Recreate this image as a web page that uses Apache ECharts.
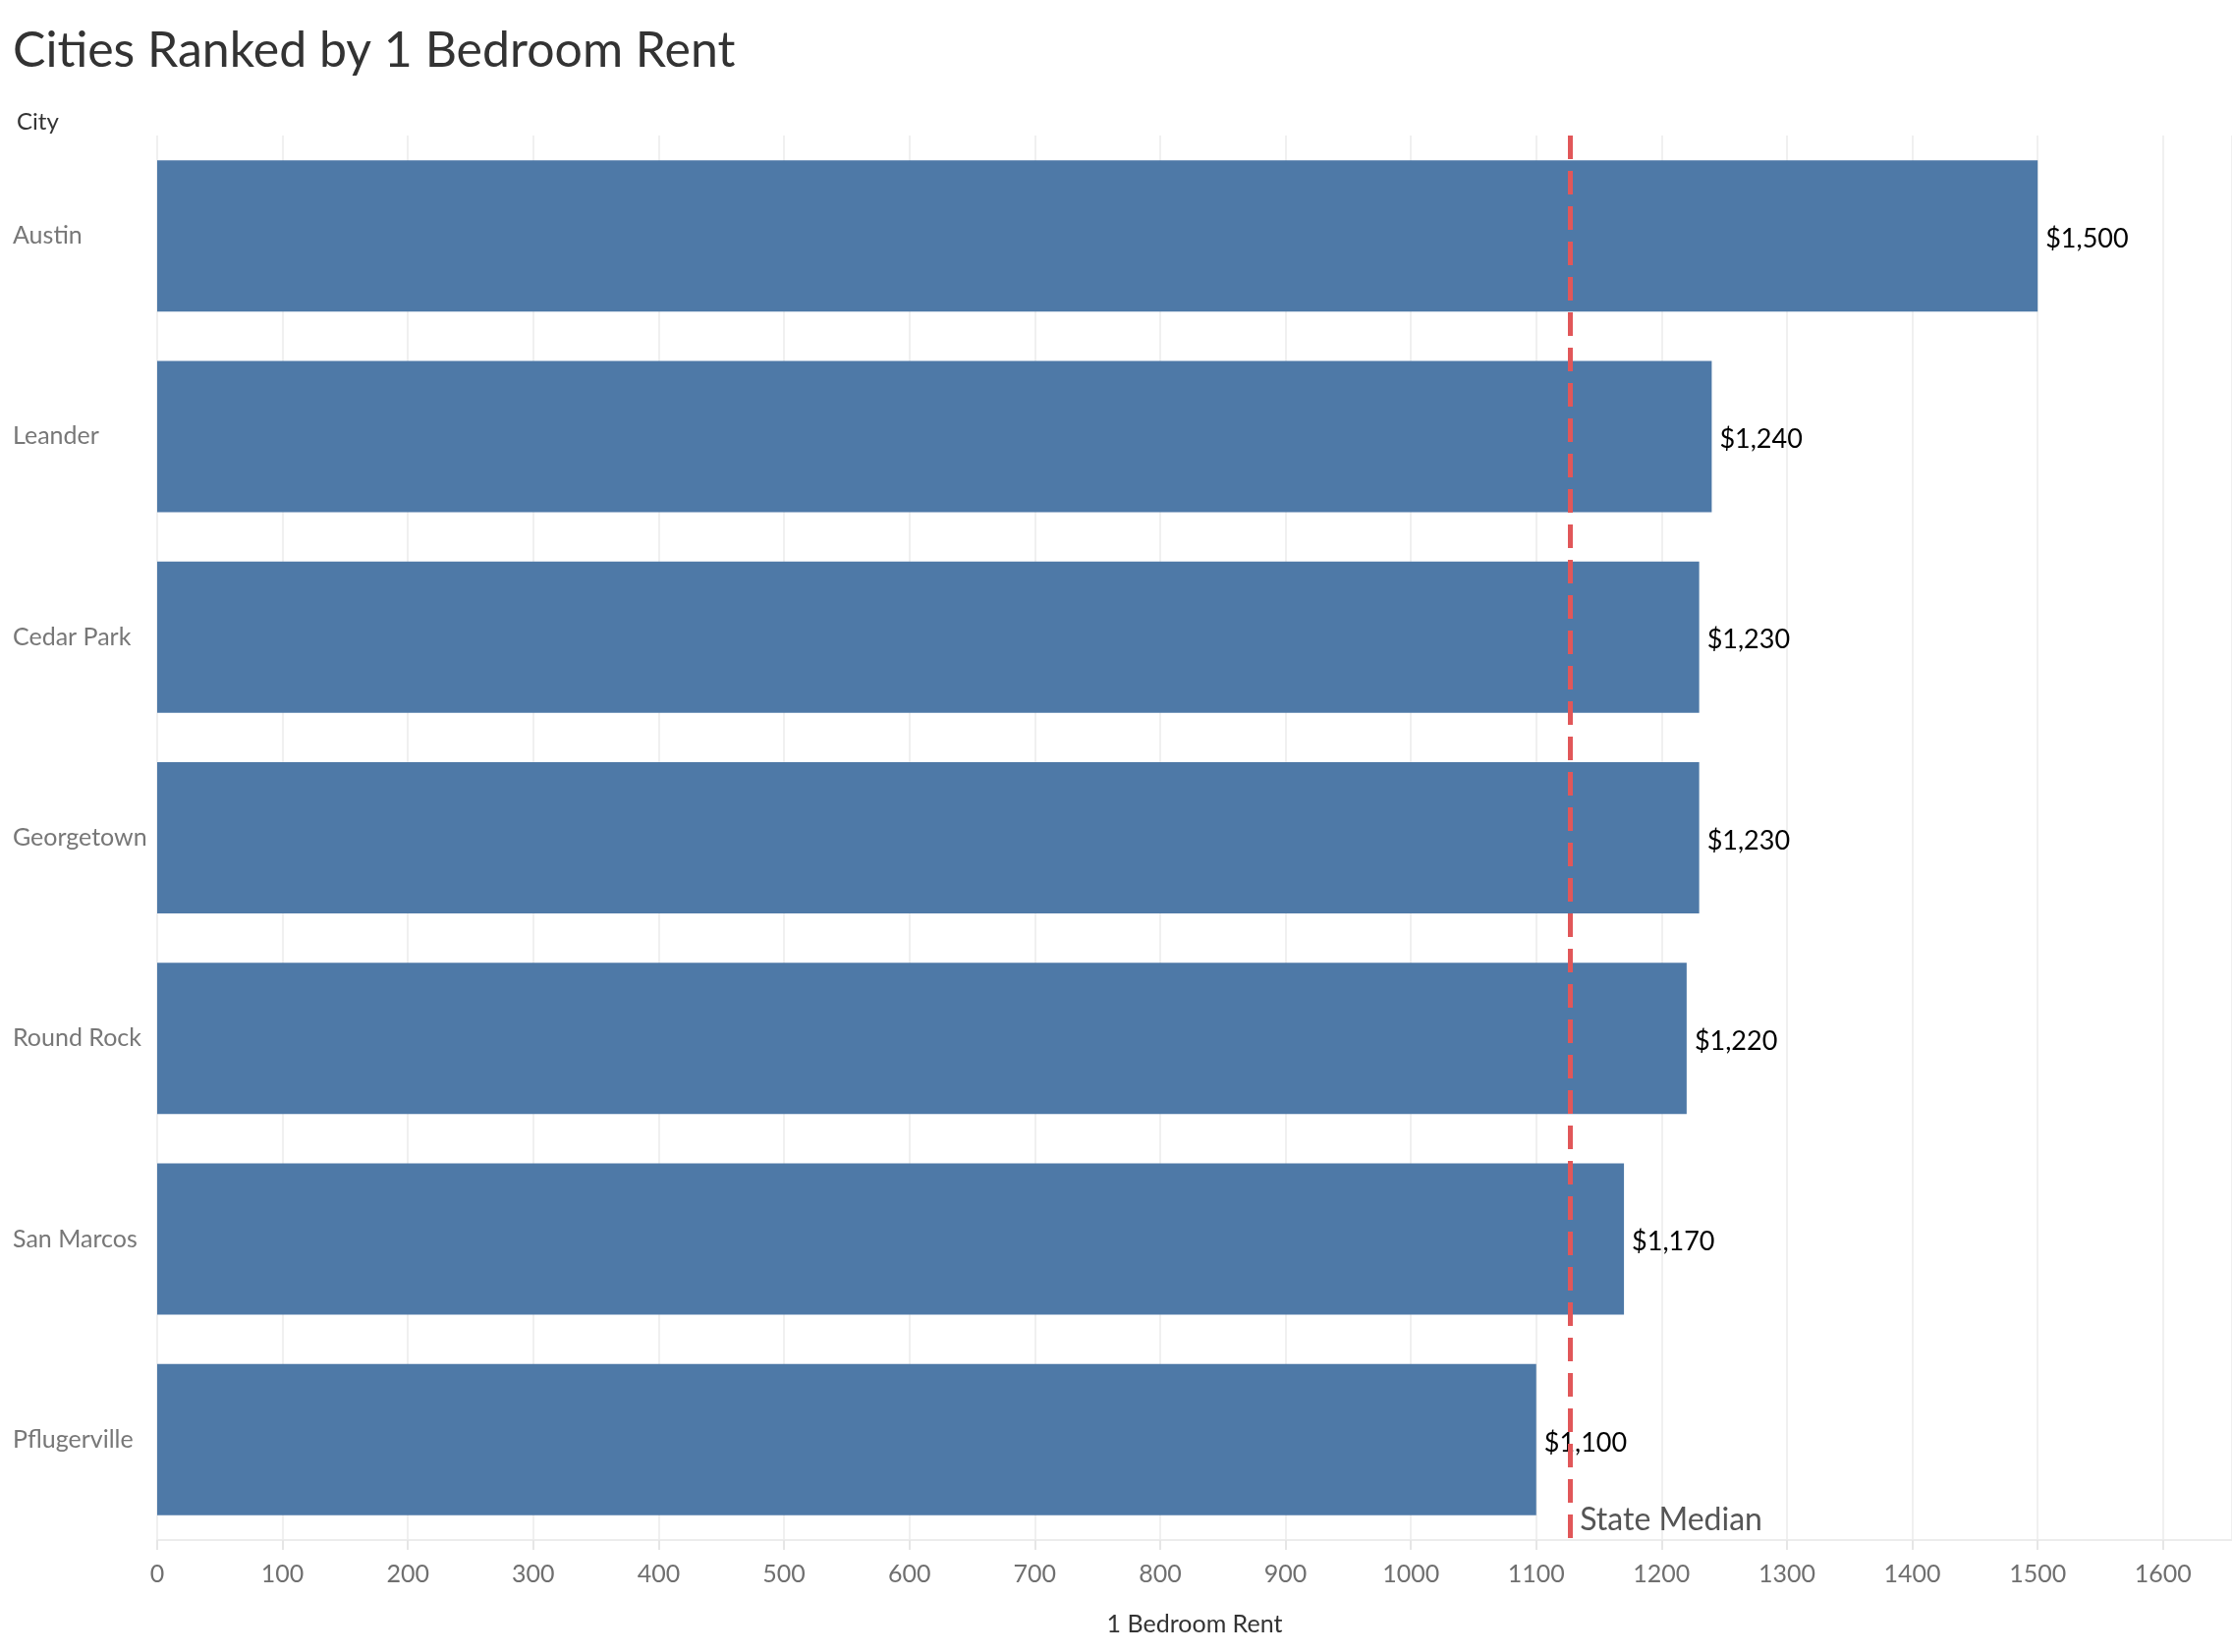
<!DOCTYPE html>
<html>
<head>
<meta charset="utf-8">
<title>Cities Ranked by 1 Bedroom Rent</title>
<script src="https://cdn.jsdelivr.net/npm/echarts@6/dist/echarts.min.js"></script>
<style>
  html, body { margin: 0; padding: 0; background: #fff; }
  #chart { width: 2272px; height: 1682px; }
</style>
</head>
<body>
<div id="chart"></div>
<script>
// data
const cities = ["Austin", "Leander", "Cedar Park", "Georgetown", "Round Rock", "San Marcos", "Pflugerville"]
const rents = [1500, 1240, 1230, 1230, 1220, 1170, 1100]
const stateMedian = 1127

const fontFamily = "Lato, 'Noto Sans', sans-serif"
const money = v => "$" + v.toLocaleString("en-US")

const chart = echarts.init(document.getElementById("chart"))

chart.setOption({
  animation: false,
  backgroundColor: "#fff",
  textStyle: { fontFamily },
  title: [
    {
      text: "Cities Ranked by 1 Bedroom Rent",
      left: 8,
      top: 22,
      textStyle: { fontSize: 50, fontWeight: "normal", color: "#333", fontFamily }
    },
    {
      text: "City",
      left: 12,
      top: 107,
      textStyle: { fontSize: 24, fontWeight: "normal", color: "#333", fontFamily }
    }
  ],
  grid: { left: 160, right: 0, top: 138, bottom: 1682 - 1568, containLabel: false },
  xAxis: {
    type: "value",
    min: 0,
    max: 1655,
    interval: 100,
    name: "1 Bedroom Rent",
    nameLocation: "middle",
    nameGap: 73,
    nameTextStyle: { fontSize: 25, color: "#333" },
    axisLine: { show: true, lineStyle: { color: "#ececec", width: 2 } },
    axisTick: { show: true, length: 10, lineStyle: { color: "#e6e6e6", width: 2 } },
    axisLabel: { fontSize: 25, color: "#6f6f6f", margin: 22, showMaxLabel: false, formatter: v => String(v) },
    splitLine: { show: true, lineStyle: { color: "#f0f0f0", width: 2 } }
  },
  yAxis: {
    type: "category",
    data: cities,
    inverse: true,
    axisLine: { show: false },
    axisTick: { show: false },
    axisLabel: { fontSize: 25, color: "#777", align: "left", margin: 147, padding: [5, 0, 0, 0] }
  },
  series: [
    {
      type: "bar",
      data: rents,
      barWidth: 154,
      itemStyle: { color: "#4e79a7" },
      label: {
        show: true,
        position: "right",
        distance: 8,
        offset: [0, 3],
        fontSize: 27,
        color: "#000",
        formatter: p => money(p.value)
      },
      markLine: {
        silent: true,
        symbol: "none",
        z: 10,
        lineStyle: { color: "#e15759", width: 5, type: [24, 12] },
        label: {
          show: true,
          position: "end",
          formatter: "State Median",
          fontSize: 32,
          color: "#555",
          align: "left",
          verticalAlign: "bottom",
          offset: [10, -9]
        },
        data: [{ xAxis: stateMedian }]
      }
    }
  ]
})
</script>
</body>
</html>
